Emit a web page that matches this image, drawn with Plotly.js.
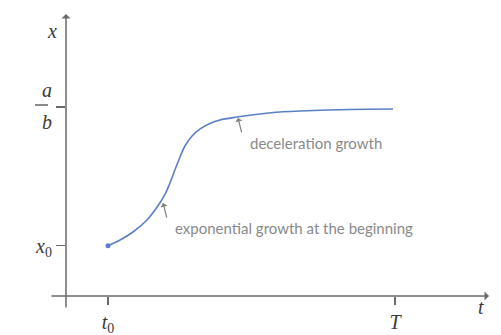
<!DOCTYPE html>
<html>
<head>
<meta charset="utf-8">
<script src="https://cdn.plot.ly/plotly-3.0.1.min.js"></script>
<style>html,body{margin:0;padding:0;background:#fff;}#chart{width:501px;height:335px;}</style>
</head>
<body>
<div id="chart"></div>
<script>
// values (t: time, x: population)
var tValues = [0, 0.42, 0.87, 1.36, 1.71, 1.99, 2.16, 2.33, 2.51, 2.68, 2.93, 3.21, 3.55, 3.90, 4.49, 5.30, 5.99, 6.69, 8.43, 9.93];
var xValues = [1.0, 1.37, 1.89, 2.67, 3.51, 4.35, 5.07, 5.91, 6.76, 7.47, 8.12, 8.58, 8.93, 9.16, 9.35, 9.55, 9.68, 9.74, 9.84, 9.87];
var xTickVals = [0, 10];
var xTickText = ['<i>t</i><sub>0</sub>', '<i>T</i>'];
var yTickVals = [1, 10];
var yTickText = ['<i>x</i><sub>0</sub>', ''];
var startT = [tValues[0]];
var startX = [xValues[0]];
var notes = [
  {text: 'exponential growth at the beginning', head: [1.92, 3.77], textAt: [2.27, 2.15]},
  {text: 'deceleration growth', head: [4.53, 9.29], textAt: [4.88, 7.66]}
];

var axisColor = '#6a6a6a';
var mathFont = {family: 'Liberation Serif, DejaVu Serif, serif', size: 20, color: '#3a3a3a'};
var noteFont = {family: 'Lato, Open Sans, sans-serif', size: 15, color: '#8a8a8a'};

var traces = [
  {x: tValues, y: xValues, mode: 'lines', line: {color: '#5b7fc3', width: 1.6, shape: 'spline', smoothing: 1}, hoverinfo: 'skip'},
  {x: startT, y: startX, mode: 'markers', marker: {color: '#5b7fc3', size: 5}, hoverinfo: 'skip'}
];

var annotations = [];
notes.forEach(function(n){
  annotations.push({xref: 'x', yref: 'y', x: n.head[0], y: n.head[1], text: '', showarrow: true,
    ax: 4, ay: 16, arrowhead: 1, arrowsize: 1, arrowwidth: 1.2, arrowcolor: '#808080', standoff: 0});
  annotations.push({xref: 'x', yref: 'y', x: n.textAt[0], y: n.textAt[1], text: n.text, showarrow: false,
    xanchor: 'left', yanchor: 'middle', font: noteFont});
});
// axes drawn as arrows (extend past the origin like the reference)
annotations.push({xref: 'paper', yref: 'paper', x: 1.0, y: 0, text: '', showarrow: true,
  axref: 'pixel', ayref: 'pixel', ax: -439, ay: 0, arrowhead: 1, arrowsize: 1, arrowwidth: 1.5, arrowcolor: axisColor, standoff: 0});
annotations.push({xref: 'paper', yref: 'paper', x: 0, y: 1.0036, text: '', showarrow: true,
  axref: 'pixel', ayref: 'pixel', ax: 0, ay: 295, arrowhead: 1, arrowsize: 1, arrowwidth: 1.5, arrowcolor: axisColor, standoff: 0});
// axis names
annotations.push({xref: 'paper', yref: 'paper', x: -0.0496, y: 0.989, text: '<i>x</i>', showarrow: false, font: mathFont});
annotations.push({xref: 'paper', yref: 'paper', x: 0.993, y: -0.0854, text: '<i>t</i>', showarrow: false, font: mathFont});
// a/b fraction label at the plateau tick
annotations.push({xref: 'paper', yref: 'y', x: -0.0615, y: yTickVals[1], yshift: 17, text: '<i>a</i>', showarrow: false, font: mathFont});
annotations.push({xref: 'paper', yref: 'y', x: -0.0615, y: yTickVals[1], yshift: -15, text: '<i>b</i>', showarrow: false, font: mathFont});

var layout = {
  width: 501, height: 335,
  margin: {l: 66, r: 12, t: 15, b: 39, pad: 0},
  paper_bgcolor: '#ffffff', plot_bgcolor: '#ffffff',
  showlegend: false,
  xaxis: {range: [-1.4634, 13.275], showgrid: false, zeroline: false, showline: false,
    tickmode: 'array', tickvals: xTickVals, ticktext: xTickText, ticks: 'outside', ticklen: 8,
    tickwidth: 1.2, tickcolor: axisColor, tickfont: mathFont, fixedrange: true},
  yaxis: {range: [-2.264, 15.971], showgrid: false, zeroline: false, showline: false,
    tickmode: 'array', tickvals: yTickVals, ticktext: yTickText, ticks: 'outside', ticklen: 9,
    tickwidth: 1.2, tickcolor: axisColor, tickfont: mathFont, fixedrange: true},
  annotations: annotations,
  shapes: [
    {type: 'line', xref: 'paper', yref: 'paper', x0: -0.0733, x1: -0.0426, y0: 0.6797, y1: 0.6797,
      line: {color: '#3a3a3a', width: 1.2}}
  ]
};

Plotly.newPlot('chart', traces, layout, {staticPlot: true, displayModeBar: false});
</script>
</body>
</html>
